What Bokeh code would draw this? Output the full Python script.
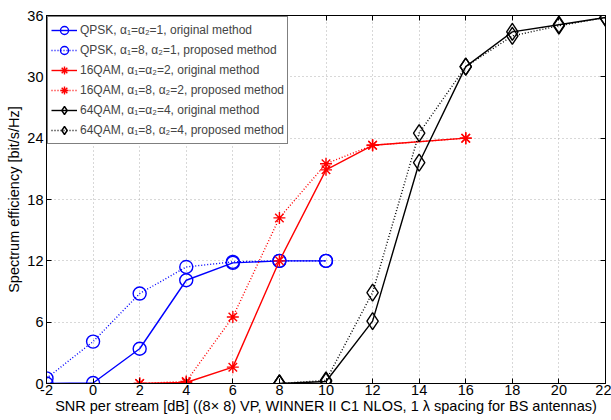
from bokeh.plotting import figure
from bokeh.models import Range1d, LinearAxis, FixedTicker, Legend, LegendItem
from bokeh.embed import file_html
from bokeh.resources import INLINE

x_qpsk = [-2, 0, 2, 4, 6, 8, 10]
qpsk_orig = [0, 0.05, 3.4, 10.1, 11.8, 12, 12]
qpsk_prop = [0.5, 4.1, 8.8, 11.4, 11.9, 12, 12]

x_16 = [2, 4, 6, 8, 10, 12, 16]
qam16_orig = [0, 0.1, 1.6, 12, 20.9, 23.3, 24.0]
qam16_prop = [0, 0.2, 6.5, 16.2, 21.5, 23.3, 24.0]

x_64 = [8, 10, 12, 14, 16, 18, 20, 22]
qam64_orig = [0, 0.2, 6.1, 21.6, 31.0, 34.4, 35.1, 35.8]
qam64_prop = [0, 0.3, 8.9, 24.5, 31.0, 34.0, 35.0, 35.8]

labels = [
    "QPSK, α₁=α₂=1, original method",
    "QPSK, α₁=8, α₂=1, proposed method",
    "16QAM, α₁=α₂=2, original method",
    "16QAM, α₁=8, α₂=2, proposed method",
    "64QAM, α₁=α₂=4, original method",
    "64QAM, α₁=8, α₂=4, proposed method",
]

x_ticks = list(range(-2, 23, 2))
y_ticks = list(range(0, 37, 6))
x_tick_labels = {t: str(t) for t in x_ticks}

FONT = "Liberation Sans"

p = figure(width=611, height=418, output_backend="svg", toolbar_location=None,
           x_range=Range1d(-2, 22), y_range=Range1d(0, 36),
           min_border_left=46, min_border_right=6, min_border_top=15, min_border_bottom=35)
p.background_fill_color = "white"
p.border_fill_color = "white"
p.outline_line_color = "black"
p.outline_line_width = 1

for ax in (p.xaxis[0], p.yaxis[0]):
    ax.major_tick_in = 5
    ax.major_tick_out = 0
    ax.minor_tick_in = 0
    ax.minor_tick_out = 0
    ax.axis_line_color = "black"
    ax.major_tick_line_color = "black"
    ax.major_label_text_font = FONT
    ax.major_label_text_font_size = "14.5px"
    ax.major_label_text_color = "black"
    ax.axis_label_text_font = FONT
    ax.axis_label_text_font_size = "14.5px"
    ax.axis_label_text_font_style = "normal"
    ax.axis_label_text_color = "black"

p.xaxis[0].ticker = FixedTicker(ticks=x_ticks)
p.xaxis[0].major_label_overrides = x_tick_labels
p.yaxis[0].ticker = FixedTicker(ticks=y_ticks)
p.xaxis[0].major_label_standoff = 1
p.yaxis[0].major_label_standoff = 3
p.xaxis[0].axis_label_standoff = 0
p.yaxis[0].axis_label_standoff = 2
p.xaxis[0].axis_label = "SNR per stream [dB] ((8× 8) VP, WINNER II C1 NLOS, 1 λ spacing for BS antennas)"
p.yaxis[0].axis_label = "Spectrum efficiency [bit/s/Hz]"

top = LinearAxis(ticker=FixedTicker(ticks=x_ticks), major_label_text_font_size="0px",
                 major_tick_in=5, major_tick_out=0, minor_tick_in=0, minor_tick_out=0,
                 major_label_standoff=0)
right = LinearAxis(ticker=FixedTicker(ticks=y_ticks), major_label_text_font_size="0px",
                   major_tick_in=5, major_tick_out=0, minor_tick_in=0, minor_tick_out=0,
                   major_label_standoff=0)
top.major_label_overrides = {t: "" for t in x_ticks}
right.major_label_overrides = {t: "" for t in y_ticks}
p.add_layout(top, "above")
p.add_layout(right, "right")

p.xgrid.ticker = FixedTicker(ticks=x_ticks)
p.ygrid.ticker = FixedTicker(ticks=y_ticks)
p.grid.grid_line_color = "#b0b0b0"
p.grid.grid_line_dash = "1 3"
p.grid.grid_line_width = 1

series = [
    (x_qpsk, qpsk_orig, "#0000ff", "solid", "circle", 13),
    (x_qpsk, qpsk_prop, "#0000ff", "1 2", "circle", 13),
    (x_16, qam16_orig, "#ff0000", "solid", "asterisk", 12),
    (x_16, qam16_prop, "#ff0000", "1 2", "asterisk", 12),
    (x_64, qam64_orig, "black", "solid", "diamond", 17),
    (x_64, qam64_prop, "black", "1 2", "diamond", 17),
]

items = []
for (xs, ys, col, dash, mk, sz), lab in zip(series, labels):
    r1 = p.line(xs, ys, line_color=col, line_dash=dash, line_width=1.4)
    r2 = p.scatter(xs, ys, marker=mk, size=sz, line_color=col, fill_color=None,
                   line_width=1.4)
    items.append(LegendItem(label=lab, renderers=[r1, r2]))

leg = Legend(items=items, location="top_left", margin=1, padding=3, spacing=0,
             label_text_font=FONT, label_text_font_size="12px", label_standoff=3,
             glyph_width=26, glyph_height=20, label_height=20,
             border_line_color="black", border_line_width=1,
             background_fill_color="white", background_fill_alpha=1)
p.add_layout(leg)

open("out.html", "w").write(file_html(p, INLINE))
